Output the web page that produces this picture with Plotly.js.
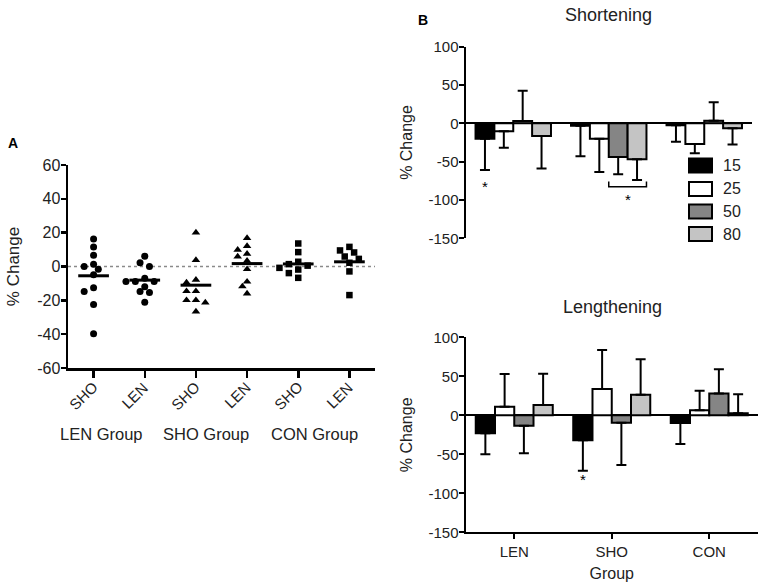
<!DOCTYPE html>
<html>
<head>
<meta charset="utf-8">
<script src="https://cdn.plot.ly/plotly-3.0.1.min.js"></script>
<style>html,body{margin:0;padding:0;background:#fff;}#chart{width:767px;height:587px;}</style>
</head>
<body>
<div id="chart"></div>
<script>
// ---------- Panel A data (% change per subject) ----------
const tickLabelsA = ['SHO', 'LEN', 'SHO', 'LEN', 'SHO', 'LEN'];
const groupLabelsA = ['LEN Group', 'SHO Group', 'CON Group'];
const yTicksA = [-60, -40, -20, 0, 20, 40, 60];
const lenGroupSHO = [16.2, 11.5, 6.7, 1.4, 0, -1.6, -4.9, -12.6, -14.8, -22.5, -39.8];
const lenGroupLEN = [6.1, 2.2, 0, -6.9, -8.9, -8.9, -8.9, -12.0, -14.8, -15.4, -21.1];
const shoGroupSHO = [20.1, 3.8, -7.9, -9.5, -14.6, -14.6, -19.9, -19.9, -21.3, -26.6];
const shoGroupLEN = [16.8, 12.1, 9.9, 7.5, 5.9, 3.4, -1.6, -9.0, -11.8, -16.0];
const conGroupSHO = [13.6, 8.5, 2.8, 1.4, 0.5, -0.8, -1.8, -3.9, -6.7];
const conGroupLEN = [11.6, 9.5, 8.3, 5.9, 4.5, 2.2, -2.9, -16.9];

// ---------- Panel B data ----------
const groupsB = ['LEN', 'SHO', 'CON'];
const seriesNames = ['15', '25', '50', '80'];
const yTicksB = [-150, -100, -50, 0, 50, 100];
// Shortening: mean and SD (one-sided)
const short15 = [-20, -3, -2.5],  short15Err = [41, 40, 21.5];
const short25 = [-10.4, -20, -27], short25Err = [21.3, 43.5, 12];
const short50 = [3, -44, 3.5],    short50Err = [39.6, 22.5, 24];
const short80 = [-16.5, -47, -6.5], short80Err = [42.5, 27, 21];
// Lengthening
const len15 = [-23, -32, -9.8],  len15Err = [27, 39, 27];
const len25 = [11, 33.8, 6.4],   len25Err = [42, 50, 25];
const len50 = [-13.5, -9.6, 28], len50Err = [35, 54, 31];
const len80 = [13.2, 26.5, 2.5], len80Err = [40, 45.5, 24.5];

// ---------- styling ----------
const W = 767, H = 587;
const FONT = 'Liberation Sans, Arial, Helvetica, sans-serif';
const TXT = '#222';
const seriesColors = ['#000000', '#ffffff', '#858585', '#c4c4c4'];
const pxX = p => p / W;
const pxY = p => 1 - p / H;

// Panel A geometry
const aLeft = 68, aRight = 375, aTop = 165, aBottom = 368;
const aXPx = (aRight - aLeft) / 6;     // px per category
const aYPx = (aBottom - aTop) / 120;   // px per % unit

function swarm(vals, step, D) {
  const order = vals.map((v, i) => i).sort((a, b) => vals[b] - vals[a]);
  const placed = [];
  const off = new Array(vals.length).fill(0);
  for (const i of order) {
    for (let n = 0; n < 60; n++) {
      const k = n === 0 ? 0 : (n % 2 ? -Math.ceil(n / 2) : Math.ceil(n / 2));
      const ok = placed.every(p => {
        const dx = (k - p.k) * step;
        const dy = (vals[i] - p.v) * aYPx;
        return dx * dx + dy * dy >= D * D;
      });
      if (ok) { placed.push({k: k, v: vals[i]}); off[i] = k * step / aXPx; break; }
    }
  }
  return off;
}

const setsA = [lenGroupSHO, lenGroupLEN, shoGroupSHO, shoGroupLEN, conGroupSHO, conGroupLEN];
const symbolsA = ['circle', 'circle', 'triangle-up', 'triangle-up', 'square', 'square'];
const sizesA = [7, 7, 7.5, 7.5, 6.5, 6.5];

const traces = [];
setsA.forEach((vals, gi) => {
  const off = swarm(vals, 4.7, 6.6);
  traces.push({
    type: 'scatter', mode: 'markers', xaxis: 'x', yaxis: 'y',
    x: vals.map((v, i) => gi + off[i]), y: vals,
    marker: {symbol: symbolsA[gi], size: sizesA[gi], color: '#000'},
    showlegend: false, hoverinfo: 'y'
  });
  const mean = vals.reduce((a, b) => a + b, 0) / vals.length;
  traces.push({
    type: 'scatter', mode: 'lines', xaxis: 'x', yaxis: 'y',
    x: [gi - 0.3, gi + 0.3], y: [mean, mean],
    line: {color: '#000', width: 3}, showlegend: false, hoverinfo: 'skip'
  });
});

// Panel B bars
const bargap = 0.21;
const barW = (1 - bargap) / 4;
const shortVals = [short15, short25, short50, short80];
const shortErrs = [short15Err, short25Err, short50Err, short80Err];
const lenVals = [len15, len25, len50, len80];
const lenErrs = [len15Err, len25Err, len50Err, len80Err];

function barTrace(vals, errs, si, xa, ya) {
  return {
    type: 'bar', xaxis: xa, yaxis: ya, name: seriesNames[si],
    x: [0, 1, 2], y: vals,
    marker: {color: seriesColors[si], line: {color: '#000', width: 2}},
    error_y: {
      type: 'data', symmetric: false, visible: true,
      array: vals.map((v, i) => v >= 0 ? errs[i] : 0),
      arrayminus: vals.map((v, i) => v < 0 ? errs[i] : 0),
      color: '#000', thickness: 2, width: 5
    },
    showlegend: false, hoverinfo: 'y'
  };
}
for (let s = 0; s < 4; s++) traces.push(barTrace(shortVals[s], shortErrs[s], s, 'x2', 'y2'));
for (let s = 0; s < 4; s++) traces.push(barTrace(lenVals[s], lenErrs[s], s, 'x3', 'y3'));

const barCenter = (g, s) => g + (s - 1.5) * barW;

// ---------- shapes & annotations ----------
const shapes = [
  {type: 'line', xref: 'x', yref: 'y', x0: -0.5, x1: 5.5, y0: 0, y1: 0,
   line: {color: '#8a8a8a', width: 1.5, dash: 'dot'}, layer: 'below'},
  // bracket under SHO 50/80 shortening
  {type: 'path', xref: 'x2', yref: 'y2',
   path: 'M' + (barCenter(1, 2) - barW / 2) + ',-76 L' + (barCenter(1, 2) - barW / 2) + ',-82.6 L' +
         (barCenter(1, 3) + barW / 2) + ',-82.6 L' + (barCenter(1, 3) + barW / 2) + ',-76',
   line: {color: '#000', width: 1.5}}
];

function ann(text, x, y, size, extra) {
  return Object.assign({text: text, xref: 'paper', yref: 'paper', x: pxX(x), y: pxY(y),
    xanchor: 'center', yanchor: 'middle', showarrow: false,
    font: {family: FONT, size: size, color: TXT}}, extra || {});
}

const annotations = [
  ann('<b>A</b>', 13, 143, 14, {font: {family: FONT, size: 14, color: '#000'}}),
  ann('<b>B</b>', 423, 20, 14, {font: {family: FONT, size: 14, color: '#000'}}),
  ann('Shortening', 608, 15, 18),
  ann('Lengthening', 612, 307, 18),
  {text: '*', xref: 'x2', yref: 'y2', x: barCenter(0, 0), y: -82, showarrow: false,
   xanchor: 'center', yanchor: 'middle', font: {family: FONT, size: 15, color: '#000'}},
  {text: '*', xref: 'x2', yref: 'y2', x: barCenter(1, 2) + barW / 2, y: -100, showarrow: false,
   xanchor: 'center', yanchor: 'middle', font: {family: FONT, size: 15, color: '#000'}},
  {text: '*', xref: 'x3', yref: 'y3', x: barCenter(1, 0), y: -82, showarrow: false,
   xanchor: 'center', yanchor: 'middle', font: {family: FONT, size: 15, color: '#000'}}
];
const groupLabelPx = [101, 206, 314];
groupLabelsA.forEach((t, i) => annotations.push(ann(t, groupLabelPx[i], 434, 16.5)));
// rotated category labels of panel A
tickLabelsA.forEach((t, i) => annotations.push({
  text: t, xref: 'x', yref: 'paper', x: i, xshift: -10, y: pxY(395.5),
  xanchor: 'center', yanchor: 'middle', textangle: -45, showarrow: false,
  font: {family: FONT, size: 15, color: TXT}
}));

// custom legend
const legTop = [158.5, 182, 204.5, 227];
seriesNames.forEach((n, i) => {
  shapes.push({type: 'rect', xref: 'paper', yref: 'paper',
    x0: pxX(689), x1: pxX(712), y0: pxY(legTop[i]), y1: pxY(legTop[i] + 14),
    fillcolor: seriesColors[i], line: {color: '#000', width: 2}});
  annotations.push(ann(n, 721, legTop[i] + 7, 16, {xanchor: 'left'}));
});

const yBase = {
  ticks: 'outside', ticklen: 5, tickwidth: 2, tickcolor: '#000',
  showline: true, linecolor: '#000', linewidth: 2, showgrid: false,
  tickfont: {family: FONT, size: 15, color: TXT}, automargin: false, fixedrange: true,
  ticklabelstandoff: -3
};

const layout = {
  width: W, height: H,
  margin: {l: 0, r: 0, t: 0, b: 0},
  paper_bgcolor: '#fff', plot_bgcolor: 'rgba(0,0,0,0)',
  font: {family: FONT, color: TXT},
  barmode: 'group', bargap: bargap, bargroupgap: 0,
  showlegend: false,
  xaxis: {
    domain: [pxX(aLeft), pxX(aRight)], range: [-0.5, 5.5], anchor: 'y',
    tickmode: 'array', tickvals: [0, 1, 2, 3, 4, 5], showticklabels: false,
    ticks: 'outside', ticklen: 7, tickwidth: 2.5, tickcolor: '#000',
    showline: true, linecolor: '#000', linewidth: 2.5, showgrid: false, zeroline: false,
    automargin: false, fixedrange: true
  },
  yaxis: Object.assign({}, yBase, {
    domain: [pxY(aBottom), pxY(aTop)], range: [-60, 60], anchor: 'x',
    tickmode: 'array', tickvals: yTicksA, ticktext: yTicksA.map(String),
    linewidth: 2.5, tickwidth: 2.5, zeroline: false,
    tickfont: {family: FONT, size: 16, color: TXT},
    title: {text: '% Change', font: {family: FONT, size: 17, color: TXT}, standoff: 13}
  }),
  xaxis2: {
    domain: [pxX(465.5), pxX(752)], range: [-0.5, 2.5], anchor: 'y2',
    showticklabels: false, ticks: '', showline: false, showgrid: false, zeroline: false, fixedrange: true
  },
  yaxis2: Object.assign({}, yBase, {
    domain: [pxY(238.3), pxY(46.7)], range: [-150, 100], anchor: 'x2',
    tickmode: 'array', tickvals: yTicksB, ticktext: yTicksB.map(String),
    zeroline: true, zerolinecolor: '#000', zerolinewidth: 2,
    title: {text: '% Change', font: {family: FONT, size: 16, color: TXT}, standoff: 12}
  }),
  xaxis3: {
    domain: [pxX(465.5), pxX(758)], range: [-0.5, 2.5], anchor: 'y3',
    tickmode: 'array', tickvals: [0, 1, 2], ticktext: groupsB,
    ticks: 'outside', ticklen: 5, tickwidth: 2, tickcolor: '#000',
    showline: true, linecolor: '#000', linewidth: 2, showgrid: false, zeroline: false,
    tickfont: {family: FONT, size: 15, color: TXT}, automargin: false, fixedrange: true,
    title: {text: 'Group', font: {family: FONT, size: 16, color: TXT}, standoff: 9}
  },
  yaxis3: Object.assign({}, yBase, {
    domain: [pxY(532.3), pxY(337.3)], range: [-150, 100], anchor: 'x3',
    tickmode: 'array', tickvals: yTicksB, ticktext: yTicksB.map(String),
    zeroline: true, zerolinecolor: '#000', zerolinewidth: 2,
    title: {text: '% Change', font: {family: FONT, size: 16, color: TXT}, standoff: 12}
  }),
  shapes: shapes,
  annotations: annotations
};

Plotly.newPlot('chart', traces, layout, {staticPlot: true, displayModeBar: false});
</script>
</body>
</html>
